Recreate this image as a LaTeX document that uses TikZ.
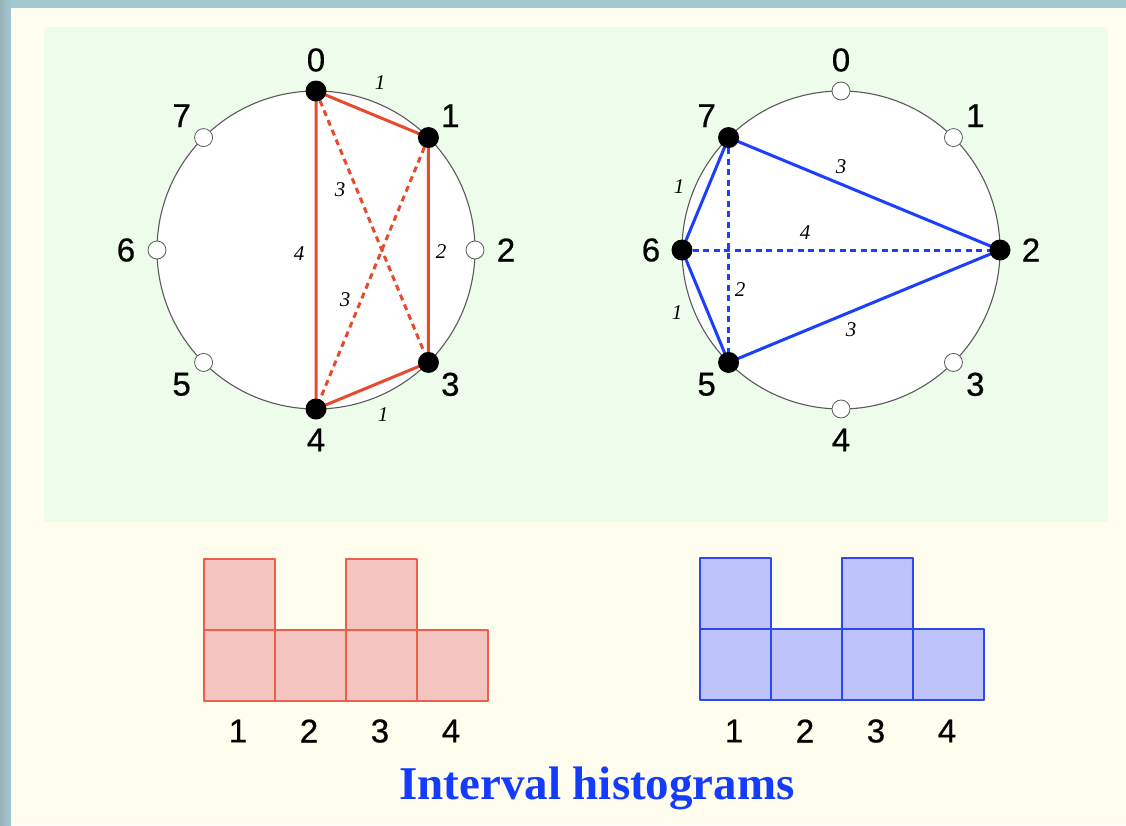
\documentclass[tikz,border=0pt]{standalone}
\usepackage{fontspec}
\setmainfont{Liberation Serif}
\newfontfamily\lblfont[FakeBold=0.6]{Liberation Sans}
\definecolor{frameblue}{RGB}{164,200,208}
\definecolor{cream}{RGB}{255,254,238}
\definecolor{panelgreen}{RGB}{238,252,236}
\definecolor{lred}{RGB}{232,74,46}
\definecolor{hredfill}{RGB}{244,196,193}
\definecolor{hredline}{RGB}{234,96,74}
\definecolor{lblue}{RGB}{28,62,255}
\definecolor{hbluefill}{RGB}{190,196,250}
\definecolor{hblueline}{RGB}{44,72,240}
\definecolor{titleblue}{RGB}{20,60,255}
\definecolor{ringgray}{RGB}{90,90,90}
\begin{document}
\begin{tikzpicture}[x=1pt,y=-1pt,
  ring/.style={draw=ringgray,line width=1.1pt,fill=white},
  whitedot/.style={circle,draw=ringgray,line width=0.8pt,fill=white,minimum size=18pt,inner sep=0pt},
  blackdot/.style={circle,fill=black,minimum size=21pt,inner sep=0pt},
  pclabel/.style={font=\lblfont\fontsize{33}{35}\selectfont,inner sep=0pt},
  ivlabel/.style={font=\itshape\fontsize{21}{23}\selectfont,inner sep=0pt},
  redline/.style={draw=lred,line width=3pt},
  reddash/.style={draw=lred,line width=3pt,dash pattern=on 6pt off 4.5pt},
  blueline/.style={draw=lblue,line width=3pt},
  bluedash/.style={draw=lblue,line width=3pt,dash pattern=on 6pt off 4.5pt},
  redbox/.style={fill=hredfill,draw=hredline,line width=1.6pt,line join=round},
  bluebox/.style={fill=hbluefill,draw=hblueline,line width=1.6pt,line join=round},
  histlabel/.style={font=\lblfont\fontsize{33}{35}\selectfont,inner sep=0pt},
  titlestyle/.style={font=\bfseries\fontsize{47}{50}\selectfont,text=titleblue,inner sep=0pt}]
\useasboundingbox (0,0) rectangle (1126,825);
% background
\fill[frameblue] (0,0) rectangle (1126,825);
\fill[left color=frameblue!85!black!90,right color=frameblue] (0,0) rectangle (11,825);
\fill[cream] (11,8) rectangle (1126,825);
\fill[panelgreen] (44,27) rectangle (1108,522);

% ---------- left circle ----------
\draw[ring] (316,250) circle[radius=159];
\foreach \k in {0,...,7} {
  \path (316,250) ++({45*\k-90}:159) coordinate (L\k);
  \path (316,250) ++({45*\k-90}:190) node[pclabel] (Llab\k) {\k};
}
\draw[reddash] (L0) -- (L3);
\draw[reddash] (L1) -- (L4);
\draw[redline,line join=round] (L0) -- (L1) -- (L3) -- (L4) -- cycle;
\foreach \k in {2,5,6,7} \node[whitedot] (Ldot\k) at (L\k) {};
\foreach \k in {0,1,3,4} \node[blackdot] (Ldot\k) at (L\k) {};
\node[ivlabel] (li01) at (380,83) {1};
\node[ivlabel] (li03) at (340,190) {3};
\node[ivlabel] (li04) at (299,254) {4};
\node[ivlabel] (li13) at (441,252) {2};
\node[ivlabel] (li14) at (345,300) {3};
\node[ivlabel] (li34) at (383,415) {1};

% ---------- right circle ----------
\draw[ring] (841,250) circle[radius=159];
\foreach \k in {0,...,7} {
  \path (841,250) ++({45*\k-90}:159) coordinate (R\k);
  \path (841,250) ++({45*\k-90}:190) node[pclabel] (Rlab\k) {\k};
}
\draw[bluedash] (R6) -- (R2);
\draw[bluedash] (R7) -- (R5);
\draw[blueline,line join=round] (R7) -- (R2) -- (R5) -- (R6) -- cycle;
\foreach \k in {0,1,3,4} \node[whitedot] (Rdot\k) at (R\k) {};
\foreach \k in {2,5,6,7} \node[blackdot] (Rdot\k) at (R\k) {};
\node[ivlabel] (ri72) at (841,167) {3};
\node[ivlabel] (ri67) at (679,187) {1};
\node[ivlabel] (ri62) at (805,233) {4};
\node[ivlabel] (ri75) at (740,290) {2};
\node[ivlabel] (ri56) at (677,313) {1};
\node[ivlabel] (ri52) at (851,330) {3};

% ---------- histograms ----------
\foreach \c/\h in {0/2,1/1,2/2,3/1} {
  \foreach \j in {1,...,\h} {
    \draw[redbox] ({204+71*\c},{701-71*\j}) rectangle ({275+71*\c},{701-71*(\j-1)});
    \draw[bluebox] ({700+71*\c},{700-71*\j}) rectangle ({771+71*\c},{700-71*(\j-1)});
  }
}
\foreach \c in {1,...,4} {
  \node[histlabel] (hl\c) at ({167+71*\c},731) {\c};
  \node[histlabel] (hr\c) at ({663+71*\c},731) {\c};
}
\node[titlestyle] (title) at (597,788) {Interval histograms};
\end{tikzpicture}
\end{document}
